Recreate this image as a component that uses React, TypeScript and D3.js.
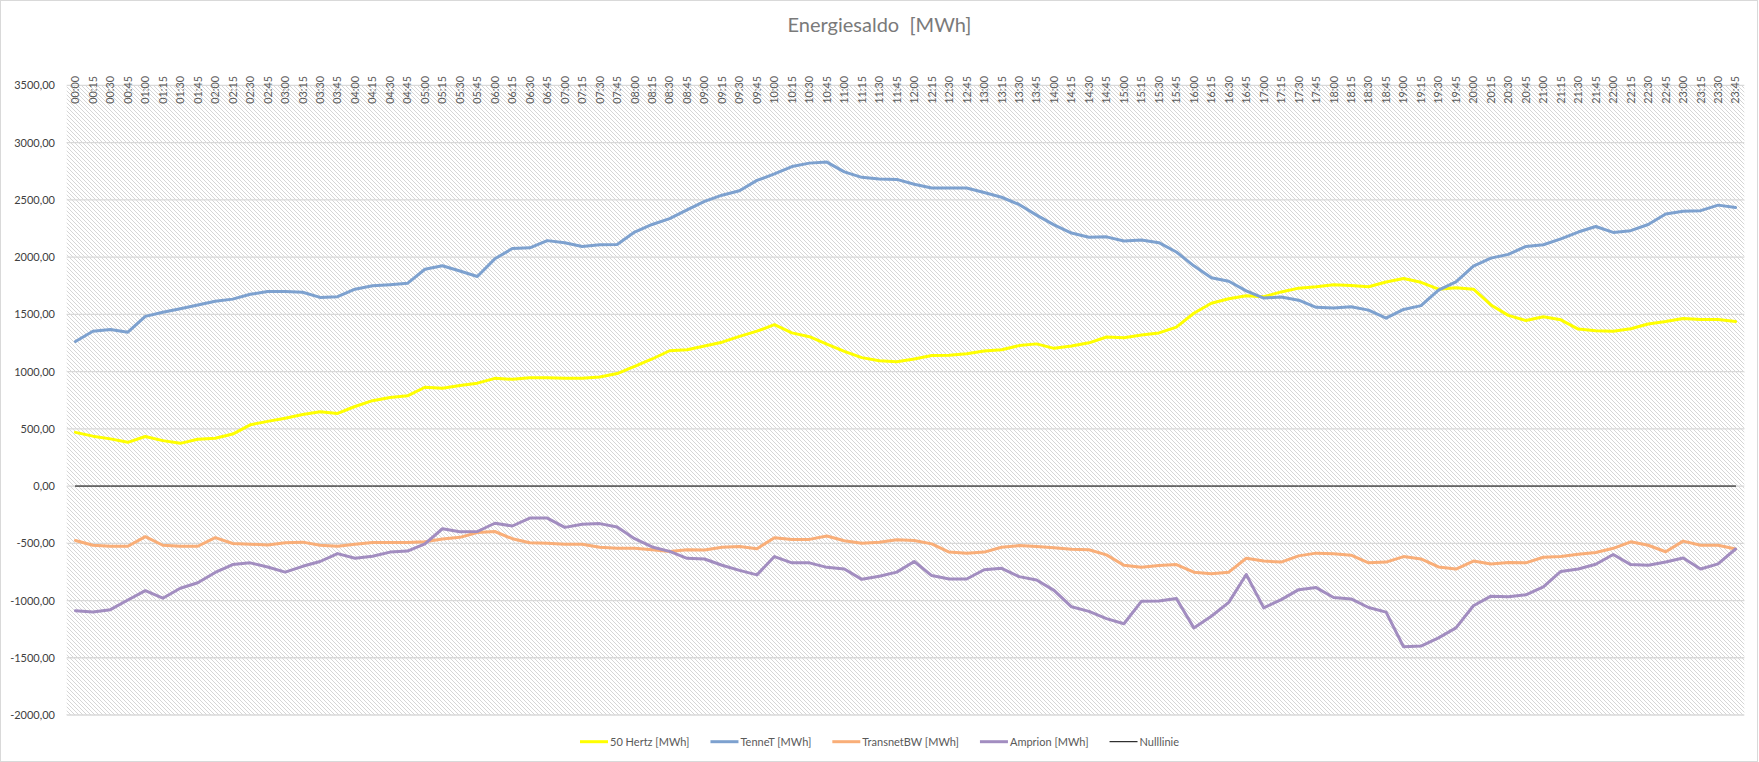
import { useEffect, useRef } from 'react';
import * as d3 from 'd3';

const times = [
  '00:00', '00:15', '00:30', '00:45', '01:00', '01:15', '01:30', '01:45', '02:00', '02:15', '02:30', '02:45',
  '03:00', '03:15', '03:30', '03:45', '04:00', '04:15', '04:30', '04:45', '05:00', '05:15', '05:30', '05:45',
  '06:00', '06:15', '06:30', '06:45', '07:00', '07:15', '07:30', '07:45', '08:00', '08:15', '08:30', '08:45',
  '09:00', '09:15', '09:30', '09:45', '10:00', '10:15', '10:30', '10:45', '11:00', '11:15', '11:30', '11:45',
  '12:00', '12:15', '12:30', '12:45', '13:00', '13:15', '13:30', '13:45', '14:00', '14:15', '14:30', '14:45',
  '15:00', '15:15', '15:30', '15:45', '16:00', '16:15', '16:30', '16:45', '17:00', '17:15', '17:30', '17:45',
  '18:00', '18:15', '18:30', '18:45', '19:00', '19:15', '19:30', '19:45', '20:00', '20:15', '20:30', '20:45',
  '21:00', '21:15', '21:30', '21:45', '22:00', '22:15', '22:30', '22:45', '23:00', '23:15', '23:30', '23:45',
];

const fiftyHertz = [
  469, 436, 412, 382, 433, 397, 373, 409, 418, 454, 535, 565, 592, 625, 650, 634, 695, 746, 773, 788, 863, 854, 878, 899,
  941, 932, 947, 947, 941, 941, 953, 983, 1046, 1110, 1182, 1191, 1224, 1257, 1308, 1353, 1410, 1338, 1305, 1239, 1176, 1122, 1095, 1086,
  1110, 1140, 1143, 1155, 1179, 1191, 1227, 1242, 1203, 1224, 1251, 1302, 1296, 1320, 1338, 1389, 1510, 1597, 1636, 1663, 1654, 1696, 1729, 1741,
  1759, 1753, 1741, 1783, 1813, 1780, 1720, 1732, 1720, 1582, 1491, 1446, 1479, 1452, 1371, 1356, 1353, 1374, 1416, 1437, 1464, 1455, 1455, 1437,
];

const tenneT = [
  1263, 1353, 1368, 1344, 1482, 1518, 1549, 1582, 1615, 1633, 1675, 1699, 1699, 1693, 1648, 1654, 1720, 1750, 1759, 1771, 1894, 1924, 1879, 1831,
  1985, 2075, 2081, 2144, 2126, 2093, 2108, 2111, 2219, 2285, 2336, 2412, 2487, 2541, 2580, 2670, 2727, 2791, 2821, 2830, 2745, 2697, 2682, 2679,
  2637, 2604, 2604, 2604, 2565, 2523, 2460, 2367, 2282, 2210, 2174, 2177, 2141, 2150, 2126, 2045, 1924, 1819, 1789, 1705, 1642, 1651, 1624, 1561,
  1555, 1567, 1537, 1467, 1543, 1576, 1711, 1783, 1921, 1991, 2024, 2093, 2108, 2159, 2219, 2267, 2216, 2231, 2285, 2376, 2400, 2406, 2454, 2433,
];

const transnetBW = [
  -475, -517, -526, -526, -442, -517, -526, -526, -451, -502, -508, -514, -496, -490, -517, -526, -508, -493, -493, -493, -487, -463, -448, -406,
  -397, -460, -496, -499, -508, -508, -535, -544, -544, -556, -571, -556, -559, -535, -529, -547, -451, -466, -466, -436, -478, -499, -490, -469,
  -475, -505, -577, -586, -577, -535, -520, -529, -538, -553, -556, -601, -692, -710, -695, -686, -752, -767, -752, -631, -655, -664, -610, -586,
  -592, -604, -671, -664, -616, -637, -707, -725, -655, -680, -668, -671, -622, -616, -595, -580, -544, -487, -517, -574, -481, -517, -517, -550,
];

const amprion = [
  -1089, -1101, -1080, -995, -914, -980, -893, -845, -755, -686, -671, -707, -752, -701, -659, -590, -631, -613, -577, -568, -505, -373, -400, -397,
  -325, -349, -280, -280, -361, -334, -328, -358, -460, -532, -571, -631, -637, -692, -737, -776, -616, -671, -671, -710, -725, -815, -788, -752,
  -659, -782, -812, -812, -731, -719, -791, -821, -911, -1055, -1095, -1158, -1203, -1007, -1004, -983, -1239, -1137, -1016, -773, -1064, -992, -905, -887,
  -974, -986, -1061, -1101, -1404, -1398, -1326, -1239, -1046, -962, -968, -950, -881, -746, -725, -683, -598, -686, -692, -664, -628, -725, -680, -550,
];

const nullLinie = times.map(() => 0);

const yTicks = [-2000, -1500, -1000, -500, 0, 500, 1000, 1500, 2000, 2500, 3000, 3500];

const seriesNames = ['50 Hertz [MWh]', 'TenneT [MWh]', 'TransnetBW [MWh]', 'Amprion [MWh]', 'Nulllinie'];
const seriesColors = ['#FFFF00', '#7DA1CF', '#F9AE78', '#A28DC0', '#000000'];
const seriesWidths = [3, 3, 3, 3, 1];

const Chart = () => {
  const ref = useRef<SVGSVGElement | null>(null);

  useEffect(() => {
    if (!ref.current) return;
    const svg = d3.select(ref.current);
    svg.selectAll('*').remove();

    const width = 1759;
    const height = 762;
    const plot = { left: 66.7, right: 1744.3, top: 85.4, bottom: 715 };
    const font = "Lato, 'Open Sans', sans-serif";

    svg.attr('width', width).attr('height', height);

    const pat = svg
      .append('defs')
      .append('pattern')
      .attr('id', 'hatch')
      .attr('patternUnits', 'userSpaceOnUse')
      .attr('width', 4)
      .attr('height', 4);
    pat.append('rect').attr('width', 4).attr('height', 4).attr('fill', '#ffffff');
    [0, 1, 2, 3].forEach((i) => {
      pat.append('rect').attr('x', i).attr('y', i).attr('width', 1).attr('height', 1).attr('fill', '#d6d6d6');
    });

    svg
      .append('rect')
      .attr('x', 0.5)
      .attr('y', 0.5)
      .attr('width', width - 2)
      .attr('height', height - 1)
      .attr('fill', '#ffffff')
      .attr('stroke', '#d9d9d9');

    const x = d3.scaleBand<string>().domain(times).range([plot.left, plot.right]);
    const cx = (t: string) => (x(t) ?? 0) + x.bandwidth() / 2;
    const y = d3.scaleLinear().domain([-2000, 3500]).range([plot.bottom, plot.top]);

    const fmt = d3.formatLocale({ decimal: ',', thousands: '', grouping: [3], currency: ['', ''], minus: '-' }).format('.2f');

    svg
      .append('rect')
      .attr('x', plot.left)
      .attr('y', plot.top)
      .attr('width', plot.right - plot.left)
      .attr('height', plot.bottom - plot.top)
      .attr('fill', 'url(#hatch)');

    svg
      .append('g')
      .selectAll('line')
      .data(yTicks)
      .join('line')
      .attr('x1', plot.left)
      .attr('x2', plot.right)
      .attr('y1', (d) => y(d))
      .attr('y2', (d) => y(d))
      .attr('stroke', '#d9d9d9')
      .attr('stroke-width', 1.3);

    svg
      .append('g')
      .selectAll('text')
      .data(yTicks)
      .join('text')
      .attr('x', 55)
      .attr('y', (d) => y(d) + 4)
      .attr('text-anchor', 'end')
      .attr('font-family', font)
      .attr('font-size', 11)
      .attr('fill', '#404040')
      .text((d) => fmt(d));

    svg
      .append('g')
      .selectAll('text')
      .data(times)
      .join('text')
      .attr('transform', (d) => `translate(${cx(d) + 3.9},76) rotate(-90)`)
      .attr('text-anchor', 'end')
      .attr('font-family', font)
      .attr('font-size', 10.8)
      .attr('fill', '#595959')
      .text((d) => d);

    svg
      .append('text')
      .attr('x', 879.5)
      .attr('y', 32)
      .attr('text-anchor', 'middle')
      .attr('font-family', font)
      .attr('font-size', 20)
      .attr('fill', '#7a7a7a')
      .attr('xml:space', 'preserve')
      .style('white-space', 'pre')
      .text('Energiesaldo  [MWh]');

    const allSeries = [fiftyHertz, tenneT, transnetBW, amprion, nullLinie];
    const line = d3
      .line<number>()
      .x((_, i) => cx(times[i]))
      .y((d) => y(d));

    allSeries.forEach((s, k) => {
      svg
        .append('path')
        .datum(s)
        .attr('fill', 'none')
        .attr('stroke', seriesColors[k])
        .attr('stroke-width', seriesWidths[k])
        .attr('stroke-linejoin', 'round')
        .attr('stroke-linecap', 'round')
        .attr('d', line);
    });

    // legend, centred under the plot
    const legend = svg.append('g');
    const lineLen = 28;
    const textGap = 2;
    const itemGap = 21;
    const ly = 741.7;
    let cursor = 0;
    seriesNames.forEach((name, k) => {
      const g = legend.append('g').attr('transform', `translate(${cursor},0)`);
      g.append('line')
        .attr('x1', 0)
        .attr('x2', lineLen)
        .attr('y1', ly)
        .attr('y2', ly)
        .attr('stroke', seriesColors[k])
        .attr('stroke-width', seriesWidths[k]);
      const t = g
        .append('text')
        .attr('x', lineLen + textGap)
        .attr('y', ly + 4)
        .attr('font-family', font)
        .attr('font-size', 11)
        .attr('fill', '#595959')
        .text(name);
      const w = (t.node() as SVGTextElement).getComputedTextLength();
      cursor += lineLen + textGap + w + itemGap;
    });
    const total = cursor - itemGap;
    legend.attr('transform', `translate(${879.5 - total / 2},0)`);
  }, []);

  return <svg ref={ref} style={{ position: 'absolute', left: 0, top: 0, display: 'block' }} />;
};

export default function App() {
  return <Chart />;
}
